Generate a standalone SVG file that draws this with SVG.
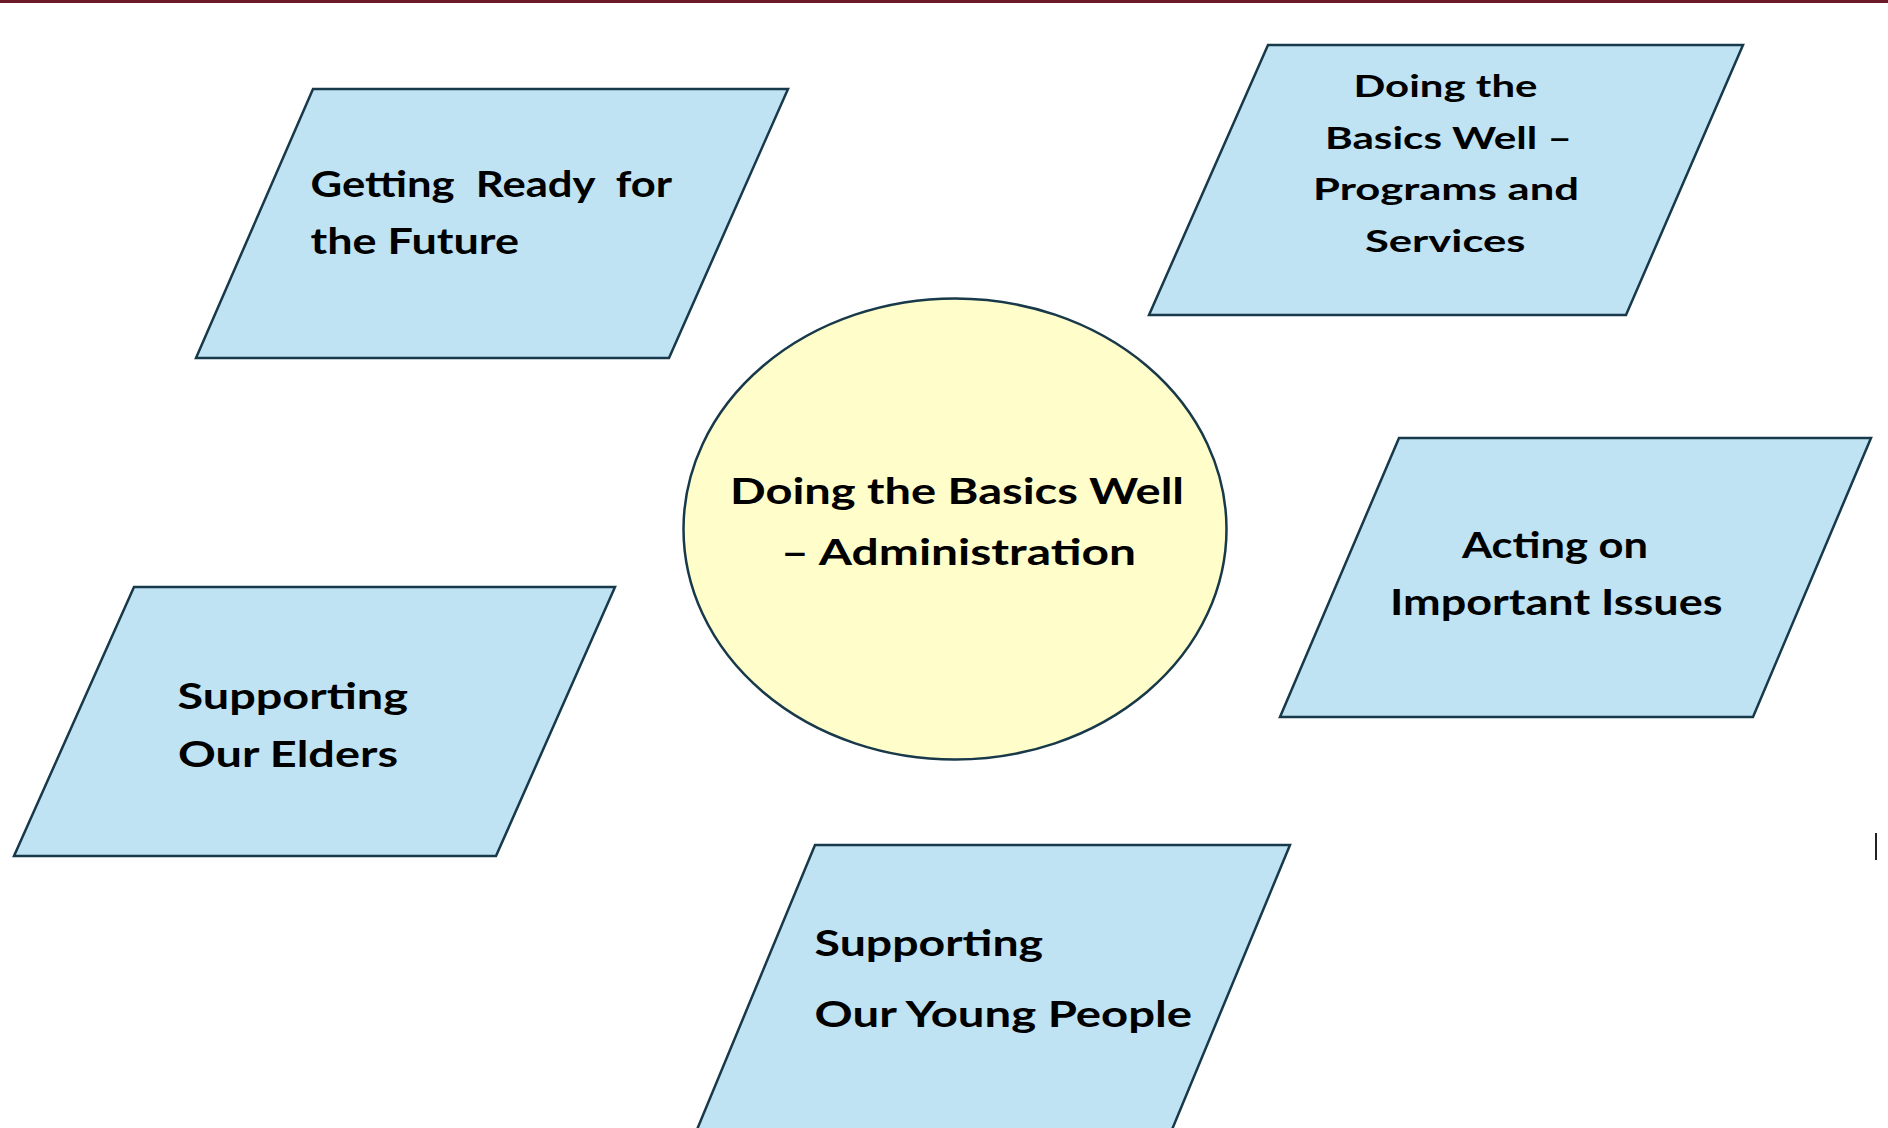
<svg xmlns="http://www.w3.org/2000/svg" width="1888" height="1128" viewBox="0 0 1888 1128">
  <style>
    .para { fill: #BFE3F3; stroke: #17394A; stroke-width: 2.5; stroke-linejoin: miter; }
    .oval { fill: #FFFDC9; stroke: #17394A; stroke-width: 2.5; }
    .lbl { font-family: Lato, "Noto Sans", "Liberation Sans", sans-serif; font-weight: 700; fill: #000000; }
    .big { font-size: 36px; }
    .mid { font-size: 31px; }
  </style>
  <rect x="0" y="0" width="1888" height="1128" fill="#FFFFFF"/>
  <rect id="top-band" x="0" y="0" width="1888" height="3" fill="#6B1A28"/>

  <g id="connectors"></g>

  <g id="node-getting-ready">
    <polygon class="para" points="313,89 788,89 669,358 196,358"/>
    <text class="lbl big" xml:space="preserve" x="310.5" y="197" textLength="361.5" lengthAdjust="spacingAndGlyphs">Getting  Ready  for</text>
    <text class="lbl big" x="310.5" y="254" textLength="208.5" lengthAdjust="spacingAndGlyphs">the Future</text>
  </g>

  <g id="node-programs-services">
    <polygon class="para" points="1268,45 1743,45 1626,315 1149,315"/>
    <text class="lbl mid" x="1353.5" y="97" textLength="184" lengthAdjust="spacingAndGlyphs">Doing the</text>
    <text class="lbl mid" x="1325" y="149" textLength="247" lengthAdjust="spacingAndGlyphs">Basics Well –</text>
    <text class="lbl mid" x="1313" y="200" textLength="266" lengthAdjust="spacingAndGlyphs">Programs and</text>
    <text class="lbl mid" x="1365" y="252" textLength="160.5" lengthAdjust="spacingAndGlyphs">Services</text>
  </g>

  <g id="node-administration">
    <ellipse class="oval" cx="955" cy="529" rx="271.5" ry="230.5"/>
    <text class="lbl big" x="730" y="503.5" textLength="454" lengthAdjust="spacingAndGlyphs">Doing the Basics Well</text>
    <text class="lbl big" x="781" y="565" textLength="355" lengthAdjust="spacingAndGlyphs">– Administration</text>
  </g>

  <g id="node-important-issues">
    <polygon class="para" points="1399,438 1871,438 1753,717 1280,717"/>
    <text class="lbl big" x="1462" y="557.5" textLength="186" lengthAdjust="spacingAndGlyphs">Acting on</text>
    <text class="lbl big" x="1390" y="615" textLength="332.5" lengthAdjust="spacingAndGlyphs">Important Issues</text>
  </g>

  <g id="node-elders">
    <polygon class="para" points="134,587 615,587 496,856 14,856"/>
    <text class="lbl big" x="177.5" y="709" textLength="230.5" lengthAdjust="spacingAndGlyphs">Supporting</text>
    <text class="lbl big" x="178" y="767" textLength="220" lengthAdjust="spacingAndGlyphs">Our Elders</text>
  </g>

  <g id="node-young-people">
    <polygon class="para" points="815,845 1290,845 1171,1132 696,1132"/>
    <text class="lbl big" x="814.6" y="956" textLength="228.5" lengthAdjust="spacingAndGlyphs">Supporting</text>
    <text class="lbl big" x="814.6" y="1027" textLength="377.5" lengthAdjust="spacingAndGlyphs">Our Young People</text>
  </g>

  <rect id="cursor-mark" x="1875" y="833" width="2" height="27" fill="#222222"/>
</svg>
